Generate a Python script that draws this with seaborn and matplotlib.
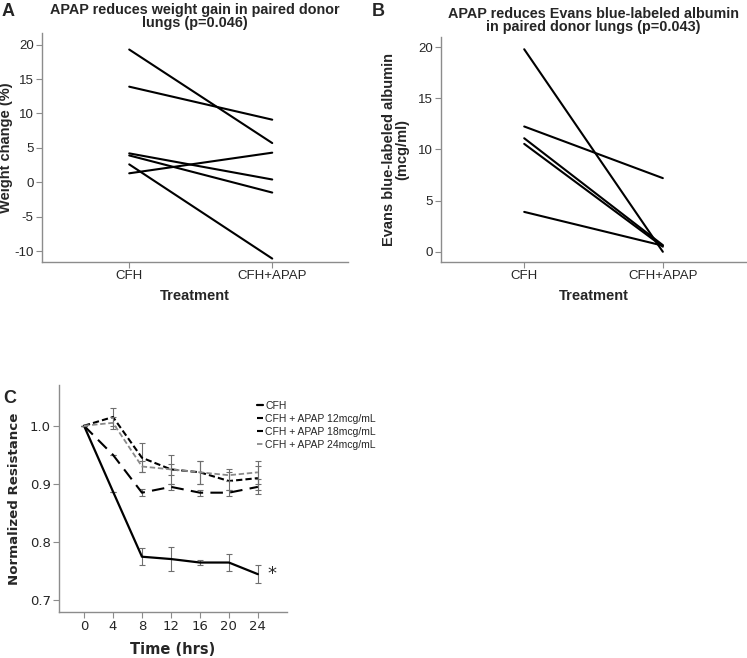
import numpy as np
import pandas as pd
import matplotlib
matplotlib.use("Agg")
import matplotlib.pyplot as plt
import seaborn as sns

sns.set_style("white")
plt.rcParams['font.family'] = ['Liberation Sans', 'DejaVu Sans']
plt.rcParams['axes.unicode_minus'] = False

### data
treatments = ["CFH", "CFH+APAP"]

# panel A: weight change (%) per paired donor lung
weight_cfh = [19.3, 13.9, 4.2, 3.9, 2.6, 1.3]
weight_apap = [5.7, 9.1, 0.4, -1.5, -11.1, 4.3]

# panel B: Evans blue-labeled albumin (mcg/ml)
evans_cfh = [19.8, 12.25, 11.1, 10.55, 3.9]
evans_apap = [0.0, 7.2, 0.65, 0.5, 0.6]

# panel C: normalized resistance over time
time_hrs = [0, 4, 8, 12, 16, 20, 24]
series_names = ["CFH", "CFH + APAP 12mcg/mL", "CFH + APAP 18mcg/mL", "CFH + APAP 24mcg/mL"]
cfh_mean = [1.0, 0.887, 0.775, 0.771, 0.765, 0.765, 0.745]
cfh_err = [0.0, 0.0, 0.015, 0.02, 0.004, 0.015, 0.015]
apap12_mean = [1.0, 1.015, 0.945, 0.925, 0.92, 0.905, 0.91]
apap12_err = [0.0, 0.015, 0.025, 0.025, 0.02, 0.015, 0.02]
apap18_mean = [1.0, 0.95, 0.885, 0.895, 0.885, 0.885, 0.895]
apap18_err = [0.0, 0.0, 0.006, 0.005, 0.005, 0.005, 0.013]
apap24_mean = [1.0, 1.005, 0.93, 0.925, 0.92, 0.915, 0.92]
apap24_err = [0.0, 0.01, 0.01, 0.01, 0.02, 0.01, 0.02]

def paired_df(before, after):
    rows = []
    for i, (b, a) in enumerate(zip(before, after)):
        rows.append({"pair": i, "treatment": treatments[0], "value": b})
        rows.append({"pair": i, "treatment": treatments[1], "value": a})
    return pd.DataFrame(rows)

SPINE = "#8c8c8c"

def style_axes(ax, fs):
    for s in ["top", "right"]:
        ax.spines[s].set_visible(False)
    for s in ["left", "bottom"]:
        ax.spines[s].set_color(SPINE)
        ax.spines[s].set_linewidth(1.0)
    ax.tick_params(axis="both", direction="out", length=4, width=0.8, color=SPINE,
                   labelsize=fs, pad=2, left=True, bottom=True)

fig = plt.figure(figsize=(7.47, 6.58), dpi=100)

### panel A
axA = fig.add_axes([0.0562, 0.6018, 0.4097, 0.348])
sns.lineplot(data=paired_df(weight_cfh, weight_apap), x="treatment", y="value",
             units="pair", estimator=None, color="black", linewidth=1.5, ax=axA)
axA.set_xlim(-0.61, 1.53)
axA.set_ylim(-11.6, 21.7)
axA.set_yticks([-10, -5, 0, 5, 10, 15, 20])
style_axes(axA, 9.5)
axA.set_xlabel("Treatment", fontsize=10.5, fontweight="bold", labelpad=5)
axA.set_ylabel("Weight change (%)", fontsize=10.5, fontweight="bold", labelpad=1)
axA.set_title("APAP reduces weight gain in paired donor\nlungs (p=0.046)",
              fontsize=10.4, fontweight="bold", linespacing=0.95, pad=4)

### panel B
axB = fig.add_axes([0.5904, 0.6018, 0.4083, 0.342])
sns.lineplot(data=paired_df(evans_cfh, evans_apap), x="treatment", y="value",
             units="pair", estimator=None, color="black", linewidth=1.5, ax=axB)
axB.set_xlim(-0.6, 1.6)
axB.set_ylim(-1.0, 21.0)
axB.set_yticks([0, 5, 10, 15, 20])
style_axes(axB, 9.5)
axB.set_xlabel("Treatment", fontsize=10.5, fontweight="bold", labelpad=5)
axB.set_ylabel("Evans blue-labeled albumin\n(mcg/ml)", fontsize=10.5, fontweight="bold",
               labelpad=6, linespacing=0.95)
axB.set_title("APAP reduces Evans blue-labeled albumin\nin paired donor lungs (p=0.043)",
              fontsize=10.4, fontweight="bold", linespacing=0.95, pad=4)

### panel C
axC = fig.add_axes([0.079, 0.0699, 0.305, 0.345])
means = [cfh_mean, apap12_mean, apap18_mean, apap24_mean]
errs = [cfh_err, apap12_err, apap18_err, apap24_err]
colors = ["black", "black", "black", "#8a8a8a"]
dashes = [(None, None), (3, 1.5), (6, 3.5), (3, 1.5)]
widths = [1.6, 1.5, 1.5, 1.3]
for name, m, e, c, d, w in zip(series_names, means, errs, colors, dashes, widths):
    axC.errorbar(time_hrs, m, yerr=e, fmt="none", ecolor="#6e6e6e", elinewidth=0.8,
                 capsize=2.0, capthick=0.8)
    line_df = pd.DataFrame({"time": time_hrs, "value": m})
    sns.lineplot(data=line_df, x="time", y="value", color=c, linewidth=w, ax=axC, label=name)
    if d[0] is not None:
        axC.lines[-1].set_dashes(d)
axC.text(25.3, 0.745, "*", fontsize=13, ha="left", va="center", family="DejaVu Sans")
axC.set_xlim(-3.45, 28)
axC.set_ylim(0.68, 1.07)
axC.set_xticks(time_hrs)
axC.set_yticks([0.7, 0.8, 0.9, 1.0])
axC.set_yticklabels(["0.7", "0.8", "0.9", "1.0"])
style_axes(axC, 9.5)
for lab in axC.get_xticklabels() + axC.get_yticklabels():
    lab.set_family("DejaVu Sans")
axC.set_xlabel("Time (hrs)", fontsize=10.5, fontweight="bold", family="DejaVu Sans", labelpad=6)
axC.set_ylabel("Normalized Resistance", fontsize=9.6, fontweight="bold", family="DejaVu Sans",
               labelpad=6)
leg = axC.legend(loc="upper left", bbox_to_anchor=(0.85, 0.95), frameon=False, fontsize=7.5,
                 handlelength=0.6, handletextpad=0.2, labelspacing=0.3, borderaxespad=0)

### panel letters
fig.text(0.002, 0.995, "A", fontsize=13, fontweight="bold", va="top", ha="left")
fig.text(0.497, 0.995, "B", fontsize=13, fontweight="bold", va="top", ha="left")
fig.text(0.004, 0.407, "C", fontsize=13, fontweight="bold", va="top", ha="left")

fig.savefig("out.png", dpi=100)
